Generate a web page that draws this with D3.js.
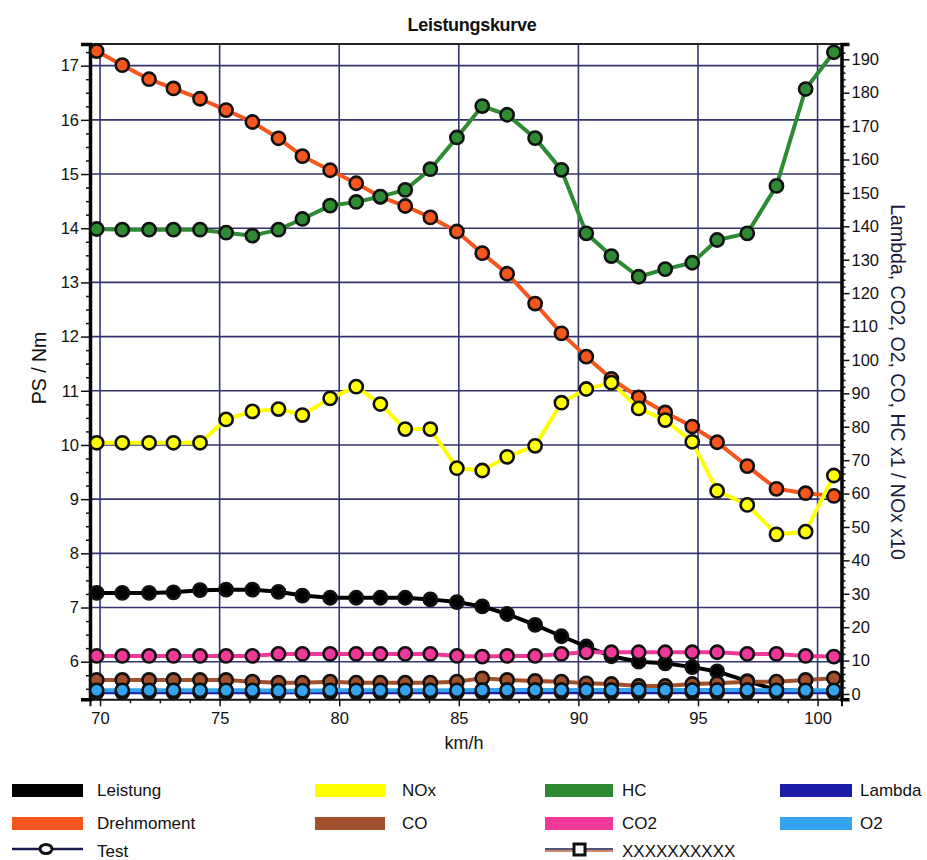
<!DOCTYPE html>
<html><head><meta charset="utf-8">
<script src="https://cdn.jsdelivr.net/npm/d3@7"></script>
<style>
html,body{margin:0;padding:0;background:#fff;}
svg{display:block;font-family:"Liberation Sans",Arial,Helvetica,sans-serif;}
</style></head>
<body>
<svg id="chart" width="927" height="860"></svg>
<script>
// ---------- DATA ----------
const speed = [69.86,70.93,72.05,73.07,74.18,75.27,76.37,77.46,78.46,79.62,80.71,81.72,82.76,83.81,84.92,
               85.98,87.02,88.19,89.29,90.33,91.38,92.52,93.63,94.76,95.80,97.06,98.28,99.50,100.68];
// left axis (PS / Nm)
const leistung   = [7.27,7.27,7.27,7.28,7.32,7.33,7.33,7.29,7.22,7.18,7.18,7.18,7.18,7.15,7.10,
                    7.02,6.88,6.68,6.47,6.28,6.10,6.00,5.97,5.90,5.82,5.64,5.48,5.46,5.46];
const drehmoment = [17.27,17.01,16.75,16.58,16.39,16.18,15.96,15.66,15.33,15.07,14.83,14.58,14.41,14.20,13.94,
                    13.54,13.16,12.61,12.06,11.63,11.22,10.88,10.60,10.34,10.05,9.61,9.19,9.11,9.06];
// right axis (Lambda, CO2, O2, CO, HC x1 / NOx x10)
const nox    = [75.2,75.2,75.2,75.2,75.2,82.2,84.6,85.3,83.5,88.5,92.0,86.8,79.3,79.3,67.6,
                66.9,71.0,74.3,87.2,91.3,93.2,85.5,82.0,75.5,60.8,56.6,47.8,48.6,65.4];
const hc     = [139.2,139.0,139.0,139.0,139.0,138.1,137.2,139.0,142.2,146.2,147.3,148.9,150.9,157.1,166.6,
                176.0,173.4,166.4,156.9,137.9,131.1,124.9,127.2,129.1,135.9,137.9,152.1,181.1,192.1];
const co2    = [11.4,11.4,11.4,11.4,11.4,11.4,11.4,12.0,12.0,12.0,12.0,12.0,12.0,12.0,11.4,
                11.2,11.4,11.4,12.0,12.5,12.5,12.5,12.5,12.5,12.5,12.0,12.0,11.4,11.2];
const co     = [4.2,4.2,4.2,4.2,4.2,4.2,3.7,3.4,3.4,3.7,3.4,3.4,3.4,3.4,3.7,
                4.7,4.2,3.9,3.7,3.2,3.0,2.4,2.4,3.0,3.2,3.7,3.7,4.2,4.7];
const lambda = [0.5,0.5,0.5,0.5,0.5,0.5,0.5,0.5,0.5,0.5,0.5,0.5,0.5,0.5,0.5,
                0.5,0.5,0.5,0.5,0.5,0.5,0.5,0.5,0.5,0.5,0.5,0.5,0.5,0.5];
const o2     = [1.1,1.1,1.1,1.1,1.1,1.1,1.1,1.0,1.0,1.1,1.1,1.1,1.1,1.1,1.1,
                1.2,1.2,1.2,1.2,1.2,1.2,1.2,1.2,1.2,1.2,1.2,1.1,1.1,1.1];

const xTicks = [70,75,80,85,90,95,100];
const leftTicks = [6,7,8,9,10,11,12,13,14,15,16,17];
const rightTicks = [0,10,20,30,40,50,60,70,80,90,100,110,120,130,140,150,160,170,180,190];

const seriesNames  = ["Leistung","Drehmoment","NOx","CO","HC","CO2","Lambda","O2"];
const seriesColors = ["#000000","#f5561e","#ffff00","#a0502a","#2e8b34","#f0389a","#1c1ca8","#34a4ee"];

// ---------- LAYOUT ----------
const svg = d3.select("#chart");
const L = 90, R = 841.5, T = 44, B = 699.3;
const x  = d3.scaleLinear().domain([69.58, 101]).range([L, R]);
const yL = d3.scaleLinear().domain([5.306, 17.40]).range([B, T]);
const yR = d3.scaleLinear().domain([-1.59, 194.58]).range([B, T]);

// title
svg.append("text").attr("x", 472).attr("y", 31).attr("text-anchor","middle")
  .attr("font-size", 18).attr("font-weight","bold").attr("fill","#111")
  .attr("letter-spacing", -0.3)
  .text("Leistungskurve");

// grid
const grid = svg.append("g");
grid.selectAll("line.h").data(leftTicks).join("line")
  .attr("x1", L).attr("x2", R).attr("y1", d=>yL(d)).attr("y2", d=>yL(d))
  .attr("stroke","#35356e").attr("stroke-width",1.6);
grid.selectAll("line.v").data(xTicks).join("line")
  .attr("y1", T).attr("y2", B).attr("x1", d=>x(d)).attr("x2", d=>x(d))
  .attr("stroke","#35356e").attr("stroke-width",1.6);

// frame (top line)
svg.append("line").attr("x1",L).attr("x2",R).attr("y1",T).attr("y2",T)
  .attr("stroke","#222").attr("stroke-width",1.8);

// axes
const minorX = d3.range(70, 100.01, 1.25).filter(v => Math.abs(v % 5) > 1e-6);
const minorL = d3.range(5.5, 17.4, 0.25).filter(v => Math.abs(v - Math.round(v)) > 1e-6);
const minorR = d3.range(0, 194, 2).filter(v => v % 10 !== 0);

const gx = svg.append("g").attr("transform",`translate(0,${B})`)
  .call(d3.axisBottom(x).tickValues(xTicks).tickSize(7).tickPadding(6).tickFormat(d3.format("d")));
gx.append("g").call(d3.axisBottom(x).tickValues(minorX).tickSize(4).tickFormat(""));

const gl = svg.append("g").attr("transform",`translate(${L},0)`)
  .call(d3.axisLeft(yL).tickValues(leftTicks).tickSize(9).tickPadding(2).tickFormat(d3.format("d")));
gl.append("g").call(d3.axisLeft(yL).tickValues(minorL).tickSize(4).tickFormat(""));

const gr = svg.append("g").attr("transform",`translate(${R},0)`)
  .call(d3.axisRight(yR).tickValues(rightTicks).tickSize(8).tickPadding(2).tickFormat(d3.format("d")));
gr.append("g").call(d3.axisRight(yR).tickValues(minorR).tickSize(4).tickFormat(""));

[gx, gl, gr].forEach(g => {
  g.selectAll("text").attr("font-size", 16.5).attr("fill","#111")
   .attr("font-family",'"Liberation Sans",Arial,sans-serif');
  g.selectAll("line").attr("stroke","#111").attr("stroke-width",1.5);
});
gx.selectAll(".domain").attr("stroke","#111").attr("stroke-width",2);
gl.selectAll(".domain").attr("stroke","#000").attr("stroke-width",3.5);
gr.selectAll(".domain").attr("stroke","#000").attr("stroke-width",3.5);
[gx, gl, gr].forEach(g => g.selectAll("g g .domain").remove());

// axis titles
svg.append("text").attr("transform","translate(46,368) rotate(-90)")
  .attr("text-anchor","middle").attr("font-size",19.5).attr("fill","#111").text("PS / Nm");
svg.append("text").attr("transform","translate(891,382) rotate(90)")
  .attr("text-anchor","middle").attr("font-size",19.5).attr("fill","#1a1a3a")
  .text("Lambda, CO2, O2, CO, HC x1 / NOx x10");
svg.append("text").attr("x",464).attr("y",749).attr("text-anchor","middle")
  .attr("font-size",18).attr("fill","#111").text("km/h");

// series
const defs = [
  {vals: leistung,   y: yL, c: seriesColors[0]},
  {vals: drehmoment, y: yL, c: seriesColors[1]},
  {vals: lambda,     y: yR, c: seriesColors[6]},
  {vals: co,         y: yR, c: seriesColors[3]},
  {vals: co2,        y: yR, c: seriesColors[5]},
  {vals: o2,         y: yR, c: seriesColors[7]},
  {vals: nox,        y: yR, c: seriesColors[2]},
  {vals: hc,         y: yR, c: seriesColors[4]},
];
const plot = svg.append("g");
defs.forEach(s => {
  const pts = speed.map((v,i)=>[v, s.vals[i]]);
  const line = d3.line().x(d=>x(d[0])).y(d=>s.y(d[1]));
  plot.append("path").datum(pts).attr("d", line).attr("fill","none")
    .attr("stroke", s.c).attr("stroke-width", 4).attr("stroke-linejoin","round");
  plot.append("g").selectAll("circle").data(pts).join("circle")
    .attr("cx", d=>x(d[0])).attr("cy", d=>s.y(d[1])).attr("r", 6.6)
    .attr("fill", s.c).attr("stroke","#111").attr("stroke-width",2.6);
});

// legend
const leg = svg.append("g").attr("font-size",17).attr("fill","#111");
const legItems = [
  {n:"Leistung",   c:seriesColors[0], x:12,  y:784},
  {n:"Drehmoment", c:seriesColors[1], x:12,  y:817},
  {n:"NOx",        c:seriesColors[2], x:315, y:784},
  {n:"CO",         c:seriesColors[3], x:315, y:817},
  {n:"HC",         c:seriesColors[4], x:545, y:784},
  {n:"CO2",        c:seriesColors[5], x:545, y:817},
  {n:"Lambda",     c:seriesColors[6], x:780, y:784},
  {n:"O2",         c:seriesColors[7], x:780, y:817},
];
const swW = {12:71, 315:70, 545:68, 780:72};
const txX = {12:97, 315:402, 545:622, 780:860};
legItems.forEach(d => {
  leg.append("rect").attr("x", d.x).attr("y", d.y).attr("width", swW[d.x]).attr("height", 13).attr("fill", d.c);
  leg.append("text").attr("x", txX[d.x]).attr("y", d.y + 12).text(d.n);
});
// Test
leg.append("line").attr("x1",12).attr("x2",83).attr("y1",849).attr("y2",849).attr("stroke","#1a1a50").attr("stroke-width",2.5);
leg.append("ellipse").attr("cx",46).attr("cy",849).attr("rx",6).attr("ry",4.5).attr("fill","#fff").attr("stroke","#111").attr("stroke-width",3);
leg.append("text").attr("x",97).attr("y",857).text("Test");
// XXXXXXXXXX
leg.append("line").attr("x1",545).attr("x2",613).attr("y1",849).attr("y2",849).attr("stroke","#1a1a50").attr("stroke-width",1.5);
leg.append("line").attr("x1",545).attr("x2",613).attr("y1",851).attr("y2",851).attr("stroke","#c0603a").attr("stroke-width",1.5);
leg.append("rect").attr("x",574).attr("y",844).attr("width",11).attr("height",11).attr("fill","#fff").attr("stroke","#111").attr("stroke-width",3);
leg.append("text").attr("x",622).attr("y",857).text("XXXXXXXXXX");
</script>
</body></html>
